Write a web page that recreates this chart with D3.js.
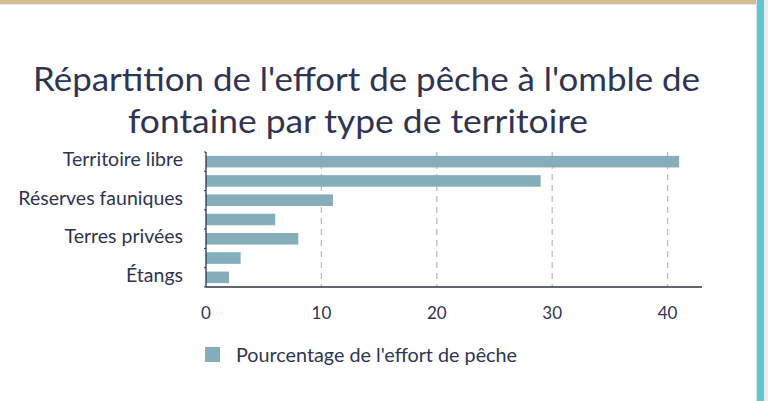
<!DOCTYPE html>
<html>
<head>
<meta charset="utf-8">
<script src="https://cdn.jsdelivr.net/npm/d3@7"></script>
<style>
  html, body { margin: 0; padding: 0; background: #ffffff; }
  svg { display: block; }
  text { font-family: Lato, "Open Sans", sans-serif; }
</style>
</head>
<body>
<svg id="chart" width="768" height="401"></svg>
<script>
const titleLines = ["Répartition de l'effort de pêche à l'omble de", "fontaine par type de territoire"];
const categories = ["Territoire libre", "Zecs", "Réserves fauniques", "Pourvoiries", "Terres privées", "Parcs nationaux", "Étangs"];
const values = [41, 29, 11, 6, 8, 3, 2];
const xTicks = [0, 10, 20, 30, 40];
const seriesName = "Pourcentage de l'effort de pêche";

const svg = d3.select("#chart");
const W = 768, H = 401;

// frame decorations
svg.append("rect").attr("x", 0).attr("y", 0).attr("width", W).attr("height", 4).attr("fill", "#d5bb93");
svg.append("rect").attr("x", 0).attr("y", 4).attr("width", W).attr("height", 1).attr("fill", "#e6e6e6");
svg.append("rect").attr("x", 756).attr("y", 0).attr("width", 1).attr("height", H).attr("fill", "#cfe9eb");
svg.append("rect").attr("x", 757).attr("y", 0).attr("width", 7).attr("height", H).attr("fill", "#5fc7cf");
svg.append("rect").attr("x", 764).attr("y", 0).attr("width", 4).attr("height", H).attr("fill", "#e9efef");

// title
const titleWidths = [667, 460];
const titleCenters = [366.5, 358];
svg.append("g").selectAll("text").data(titleLines).join("text")
  .attr("x", (d, i) => titleCenters[i]).attr("y", (d, i) => 91 + i * 42)
  .attr("text-anchor", "middle")
  .attr("font-size", 33)
  .attr("textLength", (d, i) => titleWidths[i])
  .attr("lengthAdjust", "spacingAndGlyphs")
  .attr("fill", "#2f3452")
  .text(d => d);

const x0 = 206, x1 = 702, y0 = 152, y1 = 287;
const x = d3.scaleLinear().domain([0, 40]).range([x0, 667.6]);
const y = d3.scaleBand().domain(categories).range([y0, y1]).paddingInner(0.4).paddingOuter(0.2);

// grid
svg.append("g").selectAll("line").data(xTicks.filter(t => t > 0)).join("line")
  .attr("x1", d => x(d)).attr("x2", d => x(d))
  .attr("y1", y0).attr("y2", y1)
  .attr("stroke", "#b9bec6").attr("stroke-width", 1.3)
  .attr("stroke-dasharray", "6,5");

// bars
svg.append("g").selectAll("rect").data(values).join("rect")
  .attr("x", x(0))
  .attr("y", (d, i) => y(categories[i]))
  .attr("width", d => x(d) - x(0))
  .attr("height", y.bandwidth())
  .attr("fill", "#85adba");

// y axis line + ticks at category boundaries
svg.append("line").attr("x1", x0).attr("x2", x0).attr("y1", y0).attr("y2", y1)
  .attr("stroke", "#2c3345").attr("stroke-width", 1.3);
svg.append("g").selectAll("line").data(d3.range(categories.length + 1)).join("line")
  .attr("x1", x0 - 2).attr("x2", x0)
  .attr("y1", i => y0 + i * y.step()).attr("y2", i => y0 + i * y.step())
  .attr("stroke", "#2c3345").attr("stroke-width", 1);

// y labels (every other shown, as in reference)
svg.append("g").selectAll("text").data(categories.filter((c, i) => i % 2 === 0)).join("text")
  .attr("x", 183)
  .attr("y", d => y(d) + y.bandwidth() / 2 - 2.5)
  .attr("dy", "0.35em")
  .attr("text-anchor", "end")
  .attr("font-size", 19.5)
  .attr("fill", "#2f3452")
  .text(d => d);

// x axis
svg.append("line").attr("x1", x0).attr("x2", x1).attr("y1", y1).attr("y2", y1)
  .attr("stroke", "#2c3345").attr("stroke-width", 1.5);
svg.append("g").selectAll("text").data(xTicks).join("text")
  .attr("x", d => x(d)).attr("y", 313)
  .attr("dy", "0.35em")
  .attr("text-anchor", "middle")
  .attr("font-size", 17)
  .attr("fill", "#2f3452")
  .text(d => d);

// legend
svg.append("rect").attr("x", 205).attr("y", 347).attr("width", 15).attr("height", 15).attr("fill", "#85adba");
svg.append("text").attr("x", 236).attr("y", 355).attr("dy", "0.35em")
  .attr("font-size", 19).attr("textLength", 281).attr("lengthAdjust", "spacingAndGlyphs")
  .attr("fill", "#2f3452").text(seriesName);
</script>
</body>
</html>
